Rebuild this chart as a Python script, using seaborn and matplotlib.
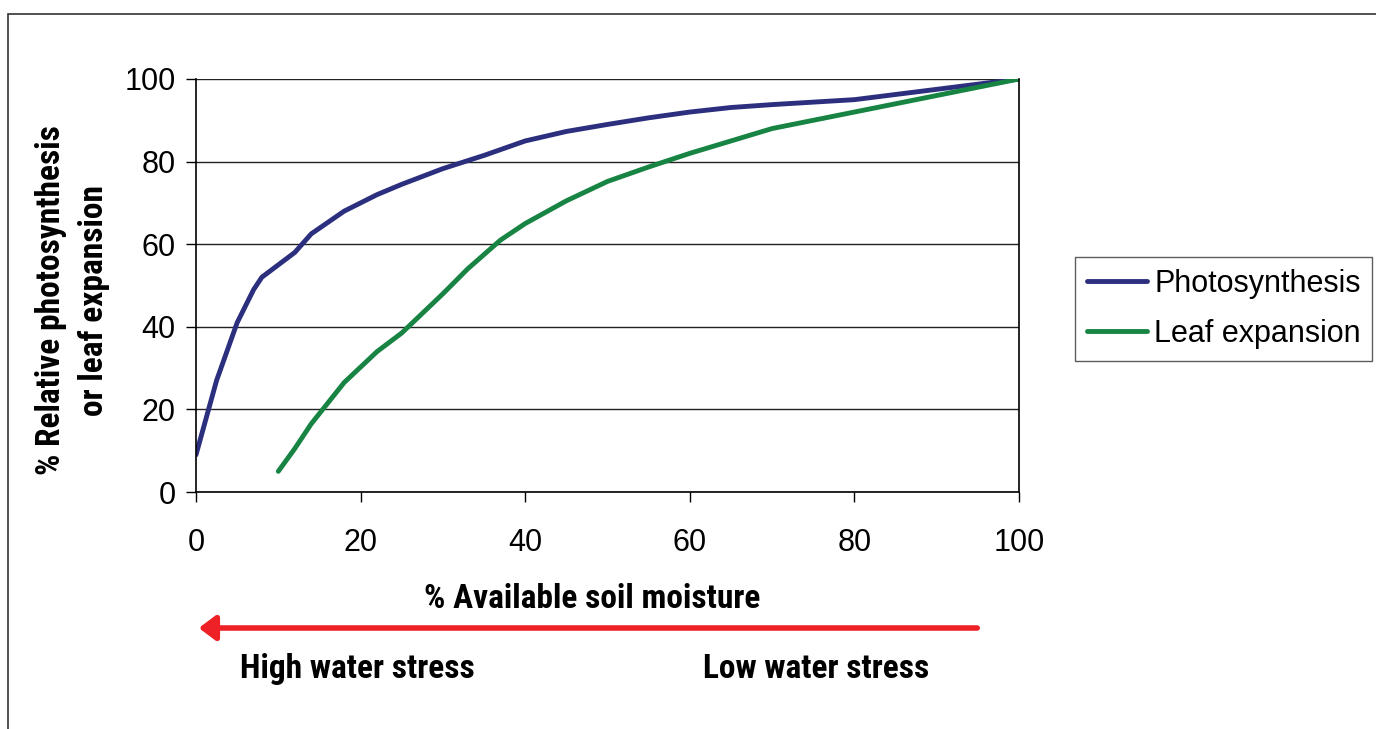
import numpy as np
import pandas as pd
import matplotlib
matplotlib.use("Agg")
import matplotlib.pyplot as plt
from matplotlib.patches import Rectangle, FancyArrowPatch
from matplotlib.lines import Line2D
import seaborn as sns

# ---- data ----
photo_x = [0, 2.5, 5, 7, 8, 10, 12, 14, 18, 20, 22, 25, 30, 35, 40, 45, 50, 55, 60, 65, 70, 80, 90, 100]
photo_y = [9, 27, 41, 49, 52, 55, 58, 62.5, 68, 70, 72, 74.5, 78.3, 81.5, 85, 87.3, 89, 90.6, 92, 93.1, 93.8, 95, 97.5, 100]
leaf_x = [10, 12, 14, 18, 22, 25, 30, 33, 37, 40, 45, 50, 55, 60, 70, 80, 90, 100]
leaf_y = [5, 10.5, 16.5, 26.5, 34, 38.5, 48, 54, 61, 65, 70.5, 75.2, 78.7, 82, 88, 92, 96, 100]
series_names = ["Photosynthesis", "Leaf expansion"]
colors = ["#2B2F7E", "#178443"]
x_ticks = [0, 20, 40, 60, 80, 100]
y_ticks = [0, 20, 40, 60, 80, 100]

df = pd.concat([
    pd.DataFrame({"x": photo_x, "y": photo_y, "series": series_names[0]}),
    pd.DataFrame({"x": leaf_x, "y": leaf_y, "series": series_names[1]}),
])

sns.set_theme(style="white")
plt.rcParams['font.family'] = ['Roboto Condensed', 'DejaVu Sans']
plt.rcParams['text.color'] = 'black'
plt.rcParams['axes.labelcolor'] = 'black'

BOLD = dict(family=['Roboto Condensed', 'DejaVu Sans'], fontweight='bold', fontsize=24, color='black')
REG = ['Liberation Sans', 'DejaVu Sans']

W, H = 1376, 729
fig = plt.figure(figsize=(W / 100, H / 100), dpi=100)
ax = fig.add_axes([196 / W, 1 - 492 / H, (1019 - 196) / W, (492 - 79) / H])

sns.lineplot(data=df, x="x", y="y", hue="series", palette=dict(zip(series_names, colors)),
             linewidth=3.5, ax=ax, legend=False, sort=False)

ax.set_xlim(0, 100)
ax.set_ylim(0, 100)
ax.set_xticks(x_ticks)
ax.set_yticks(y_ticks)
ax.set_xticklabels([str(v) for v in x_ticks], family=REG, fontsize=22, color='black')
ax.set_yticklabels([str(v) for v in y_ticks], family=REG, fontsize=22, color='black')
ax.tick_params(axis='both', direction='out', length=7.5, width=1, color='black',
               bottom=True, left=True)
ax.tick_params(axis='x', pad=18.5)
ax.tick_params(axis='y', pad=7)
ax.grid(axis='y', color='#222222', linewidth=1)
ax.set_axisbelow(True)
for s in ['left', 'right', 'bottom']:
    ax.spines[s].set_visible(True)
    ax.spines[s].set_color('black')
    ax.spines[s].set_linewidth(1.2)
ax.spines['top'].set_visible(False)

ax.set_xlabel("% Available soil moisture", **BOLD)
ax.xaxis.set_label_coords((592 - 196) / 823, (492 - 583) / 413)
ax.set_ylabel("% Relative photosynthesis\nor leaf expansion", linespacing=1.45, **BOLD)
ax.yaxis.set_label_coords((110 - 196) / 823, (492 - 300) / 413)

# legend
handles = [Line2D([0], [0], color=c, lw=3.5) for c in colors]
leg = fig.legend(handles, series_names, loc='center left', bbox_to_anchor=(1075 / W, 1 - 309 / H),
                 frameon=True, fancybox=False, edgecolor='#333333',
                 handlelength=1.96, handletextpad=0.25, borderpad=0.38, labelspacing=0.65,
                 borderaxespad=0, prop={'family': REG, 'size': 22})
leg.get_frame().set_linewidth(1)
for t in leg.get_texts():
    t.set_color('black')

# arrow
arrow = FancyArrowPatch((980 / W, 1 - 628 / H), (196 / W, 1 - 628 / H), transform=fig.transFigure,
                        arrowstyle='-|>,head_length=10,head_width=7.5', color='#EE2226', lw=4,
                        mutation_scale=1, capstyle='round')
fig.patches.append(arrow)

fig.text(240 / W, 1 - 669 / H, "High water stress", va='center', ha='left', **BOLD)
fig.text(703 / W, 1 - 669 / H, "Low water stress", va='center', ha='left', **BOLD)

# figure frame
fig.patches.append(Rectangle((8 / W, -0.1), 1.2, 1 - 14 / H + 0.1, transform=fig.transFigure,
                             fill=False, edgecolor='#333333', lw=1.2))

fig.savefig("out.png", dpi=100, facecolor='white')
